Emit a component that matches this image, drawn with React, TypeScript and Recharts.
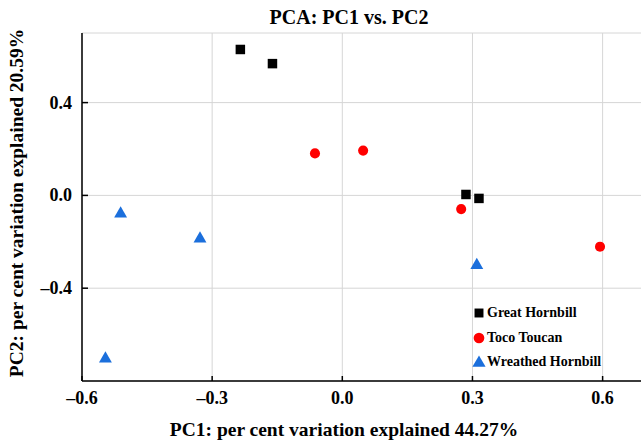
import React from "react";
import {
  ScatterChart,
  Scatter,
  XAxis,
  YAxis,
  CartesianGrid,
  Legend,
  Label,
  Symbols,
} from "recharts";

const FONT = "'Liberation Serif', 'Times New Roman', serif";

const seriesNames = ["Great Hornbill", "Toco Toucan", "Wreathed Hornbill"];
const seriesColors = ["#000000", "#ff0000", "#1b6fdc"];

const greatHornbill = [
  { x: -0.235, y: 0.629 },
  { x: -0.161, y: 0.568 },
  { x: 0.285, y: 0.004 },
  { x: 0.315, y: -0.013 },
];
const tocoToucan = [
  { x: -0.063, y: 0.181 },
  { x: 0.048, y: 0.193 },
  { x: 0.274, y: -0.059 },
  { x: 0.594, y: -0.221 },
];
const wreathedHornbill = [
  { x: -0.511, y: -0.079 },
  { x: -0.328, y: -0.187 },
  { x: 0.31, y: -0.301 },
  { x: -0.546, y: -0.704 },
];

const xTicks = [-0.6, -0.3, 0, 0.3, 0.6];
const yTicks = [-0.4, 0, 0.4];
const xDomain = [-0.6, 0.7];
const yDomain = [-0.8, 0.7];

const fmt = (v: number) => (v < 0 ? "\u2013" + Math.abs(v).toFixed(1) : Math.abs(v).toFixed(1));

const tickText = { fontFamily: FONT, fontWeight: 700, fontSize: 18, fill: "#000" };
const titleText = { fontFamily: FONT, fontWeight: 700, fontSize: 19.5, fill: "#000" };

const BottomTick = ({ x, y, payload }: any) => (
  <g>
    <line x1={x} y1={y} x2={x} y2={y - 5} stroke="#000" strokeWidth={1.5} />
    <text x={x} y={y + 23} textAnchor="middle" style={tickText}>
      {fmt(payload.value)}
    </text>
  </g>
);

const TopTick = ({ x, y }: any) => (
  <line x1={x} y1={y} x2={x} y2={y + 7} stroke="#000" strokeWidth={1.5} />
);

const LeftTick = ({ x, y, payload }: any) => (
  <g>
    <line x1={x} y1={y} x2={x + 6} y2={y} stroke="#000" strokeWidth={1.5} />
    <text x={x - 10} y={y + 6} textAnchor="end" style={tickText}>
      {fmt(payload.value)}
    </text>
  </g>
);

const RightTick = ({ x, y }: any) => (
  <line x1={x} y1={y} x2={x - 6} y2={y} stroke="#000" strokeWidth={1.5} />
);

const makeShape = (type: any, size: number, color: string) => (props: any) =>
  <Symbols cx={props.cx} cy={props.cy} type={type} size={size} fill={color} />;

const LegendBox = ({ payload }: any) => (
  <div style={{ fontFamily: FONT, fontWeight: 700, fontSize: 14, color: "#000" }}>
    {(payload || []).map((entry: any) => (
      <div key={entry.value} style={{ display: "flex", alignItems: "center", height: 24.5 }}>
        <svg width={14} height={14} style={{ marginRight: 1 }}>
          <Symbols
            cx={7}
            cy={entry.type === "triangle" ? 8 : 7}
            type={entry.type}
            size={entry.type === "square" ? 80 : entry.type === "circle" ? 90 : 75}
            fill={entry.color}
          />
        </svg>
        <span>{entry.value}</span>
      </div>
    ))}
  </div>
);

export default function App() {
  return (
    <div
      style={{
        position: "absolute",
        left: 0,
        top: 0,
        width: 641,
        height: 441,
        overflow: "hidden",
        background: "#fff",
      }}
    >
      <div
        style={{
          position: "absolute",
          left: 199,
          top: 6,
          width: 300,
          textAlign: "center",
          fontFamily: FONT,
          fontWeight: 700,
          fontSize: 20,
          lineHeight: "22px",
        }}
      >
        PCA: PC1 vs. PC2
      </div>
      <ScatterChart width={646} height={441} margin={{ top: 33, right: 0, bottom: 0, left: 0 }}>
        <CartesianGrid stroke="#d6d6d6" strokeWidth={1} />
        <XAxis
          type="number"
          dataKey="x"
          domain={xDomain}
          ticks={xTicks}
          allowDataOverflow
          height={60}
          tickSize={0}
          tickMargin={0}
          tickLine={false}
          tick={<BottomTick />}
          axisLine={{ stroke: "#000", strokeWidth: 1.5 }}
          interval={0}
        >
          <Label
            content={({ viewBox }: any) => (
              <text
                x={viewBox.x + viewBox.width / 2 - 20}
                y={viewBox.y + 55}
                textAnchor="middle"
                style={titleText}
              >
                PC1: per cent variation explained 44.27%
              </text>
            )}
          />
        </XAxis>
        <XAxis
          xAxisId="top"
          orientation="top"
          type="number"
          dataKey="x"
          domain={xDomain}
          ticks={xTicks}
          allowDataOverflow
          height={0}
          tickSize={0}
          tickMargin={0}
          tickLine={false}
          tick={<TopTick />}
          axisLine={{ stroke: "#000", strokeWidth: 1.5 }}
          interval={0}
        />
        <YAxis
          type="number"
          dataKey="y"
          domain={yDomain}
          ticks={yTicks}
          allowDataOverflow
          width={82}
          tickSize={0}
          tickMargin={0}
          tickLine={false}
          tick={<LeftTick />}
          axisLine={{ stroke: "#000", strokeWidth: 1.5 }}
          interval={0}
        >
          <Label
            content={({ viewBox }: any) => {
              const cx = 16;
              const cy = viewBox.y + viewBox.height / 2 - 4;
              return (
                <text
                  x={cx}
                  y={cy}
                  transform={`rotate(-90, ${cx}, ${cy})`}
                  textAnchor="middle"
                  dominantBaseline="central"
                  style={titleText}
                >
                  PC2: per cent variation explained 20.59%
                </text>
              );
            }}
          />
        </YAxis>
        <YAxis
          yAxisId="right"
          orientation="right"
          type="number"
          dataKey="y"
          domain={yDomain}
          ticks={yTicks}
          allowDataOverflow
          width={0}
          tickSize={0}
          tickMargin={0}
          tickLine={false}
          tick={<RightTick />}
          axisLine={{ stroke: "#000", strokeWidth: 1.5 }}
          interval={0}
        />
        <Legend
          layout="vertical"
          align="center"
          verticalAlign="middle"
          content={<LegendBox />}
          wrapperStyle={{ position: "absolute", left: 472, top: 301, width: "auto", height: "auto" }}
        />
        <Scatter
          name={seriesNames[0]}
          data={greatHornbill}
          fill={seriesColors[0]}
          legendType="square"
          shape={makeShape("square", 90, seriesColors[0])}
          isAnimationActive={false}
        />
        <Scatter
          name={seriesNames[1]}
          data={tocoToucan}
          fill={seriesColors[1]}
          legendType="circle"
          shape={makeShape("circle", 80, seriesColors[1])}
          isAnimationActive={false}
        />
        <Scatter
          name={seriesNames[2]}
          data={wreathedHornbill}
          fill={seriesColors[2]}
          legendType="triangle"
          shape={makeShape("triangle", 72, seriesColors[2])}
          isAnimationActive={false}
        />
      </ScatterChart>
    </div>
  );
}
